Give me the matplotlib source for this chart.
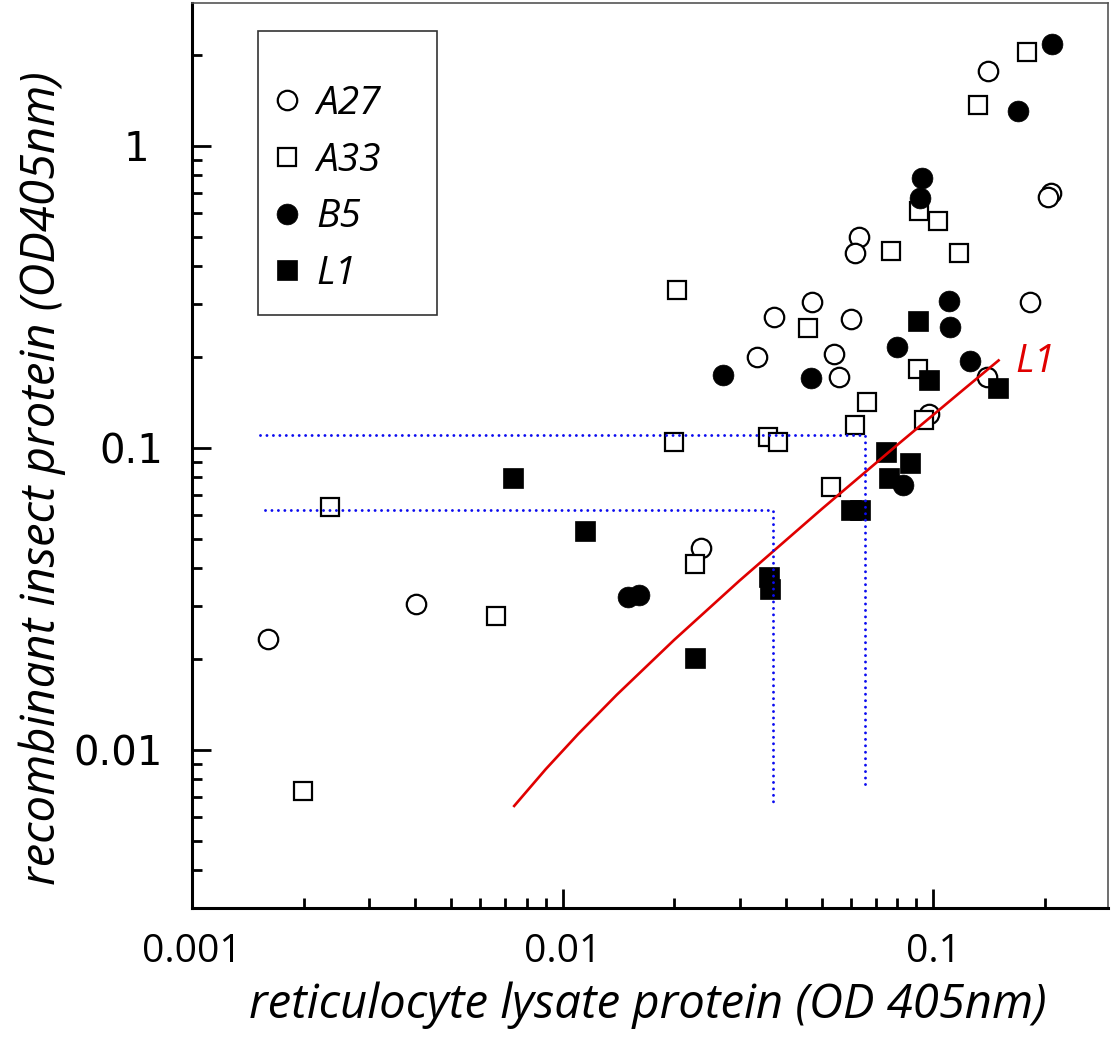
import matplotlib
matplotlib.use("Agg")
import matplotlib.pyplot as plt
from matplotlib.ticker import FixedLocator, NullFormatter, LogLocator
from matplotlib.lines import Line2D
from matplotlib.patches import Rectangle
from matplotlib.transforms import ScaledTranslation

# ---------------- data ----------------
a27_x = [0.0016, 0.00402, 0.0236, 0.0335, 0.0371, 0.0472, 0.0601, 0.0538, 0.0558,
         0.0632, 0.0616, 0.1406, 0.208, 0.204, 0.1826, 0.1398, 0.0975]
a27_y = [0.0233, 0.0304, 0.0465, 0.2007, 0.272, 0.303, 0.268, 0.204, 0.172,
         0.500, 0.443, 1.77, 0.699, 0.678, 0.303, 0.172, 0.130]

a33_x = [0.00199, 0.00236, 0.0066, 0.0203, 0.01995, 0.0228, 0.0359, 0.0380, 0.0460,
         0.0531, 0.0614, 0.0663, 0.0770, 0.117, 0.0917, 0.1032, 0.1316, 0.1789,
         0.0911, 0.0941]
a33_y = [0.00732, 0.0636, 0.0277, 0.332, 0.105, 0.0412, 0.109, 0.105, 0.250,
         0.0742, 0.119, 0.1417, 0.450, 0.442, 0.607, 0.565, 1.36, 2.05,
         0.182, 0.124]

b5_x = [0.01497, 0.01603, 0.0271, 0.0469, 0.0798, 0.110, 0.111, 0.1258, 0.0827,
        0.0932, 0.0918, 0.1692, 0.2089]
b5_y = [0.0320, 0.0325, 0.1741, 0.1706, 0.2155, 0.3074, 0.2508, 0.1936, 0.0752,
        0.782, 0.672, 1.30, 2.17]

l1_x = [0.00736, 0.01146, 0.0228, 0.0360, 0.0363, 0.0598, 0.0633, 0.0746, 0.0758,
        0.0867, 0.0909, 0.0973, 0.1491]
l1_y = [0.0797, 0.0530, 0.0201, 0.0375, 0.0341, 0.0621, 0.0621, 0.0969, 0.0797,
        0.0893, 0.264, 0.168, 0.158]

# red L1 regression curve
fit_x = [0.0074, 0.009, 0.011, 0.014, 0.02, 0.03, 0.05, 0.08, 0.12, 0.15]
fit_y = [0.00653, 0.00864, 0.01128, 0.01524, 0.02316, 0.03636, 0.06276, 0.1024, 0.1552, 0.1948]

# blue dotted guide lines (two read-outs)
guide1_x = [0.00153, 0.0656, 0.0656]
guide1_y = [0.110, 0.110, 0.00743]
guide2_x = [0.00157, 0.0369, 0.0369]
guide2_y = [0.0623, 0.0623, 0.0066]

x_ticks = [0.001, 0.01, 0.1]
x_ticklabels = ["0.001", "0.01", "0.1"]
y_ticks = [0.01, 0.1, 1]
y_ticklabels = ["0.01", "0.1", "1"]

series_names = ["A27", "A33", "B5", "L1"]

# ---------------- figure ----------------
W, H = 1111, 1053
fig = plt.figure(figsize=(W / 100, H / 100), dpi=100)
fig.patch.set_facecolor("white")
ax = fig.add_axes([192 / W, 1 - 908 / H, (1108 - 192) / W, (908 - 3) / H])
ax.set_xscale("log")
ax.set_yscale("log")
ax.set_xlim(0.001, 0.296)
ax.set_ylim(0.003, 2.97)

ms = 14
mew = 1.6
ax.plot(a27_x, a27_y, linestyle="none", marker="o", ms=ms, mfc="white", mec="black", mew=mew, zorder=3)
ax.plot(a33_x, a33_y, linestyle="none", marker="s", ms=ms - 0.5, mfc="white", mec="black", mew=mew, zorder=3)
ax.plot(b5_x, b5_y, linestyle="none", marker="o", ms=ms + 1, mfc="black", mec="black", mew=0.5, zorder=4)
ax.plot(l1_x, l1_y, linestyle="none", marker="s", ms=ms + 0.5, mfc="black", mec="black", mew=0.5, zorder=4)

ax.plot(fit_x, fit_y, color="#e00000", lw=1.9, zorder=5)
dot_style = dict(color="#0c0cf0", lw=2.1, linestyle=(0, (0.01, 2.2)),
                 dash_capstyle="round", zorder=5)
ax.plot(guide1_x, guide1_y, **dot_style)
ax.plot(guide2_x, guide2_y, **dot_style)

ax.text(0.166, 0.193, "L1", color="#e00000", fontsize=28, fontstyle="italic",
        family="Open Sans", ha="left", va="center", zorder=6)

# spines
for s in ["top", "right"]:
    ax.spines[s].set_color("#555555")
    ax.spines[s].set_linewidth(1.2)
for s in ["left", "bottom"]:
    ax.spines[s].set_color("black")
    ax.spines[s].set_linewidth(2.2)

# ticks
ax.xaxis.set_major_locator(FixedLocator(x_ticks))
ax.yaxis.set_major_locator(FixedLocator(y_ticks))
ax.xaxis.set_minor_locator(LogLocator(base=10, subs=range(2, 10)))
ax.yaxis.set_minor_locator(LogLocator(base=10, subs=range(2, 10)))
ax.xaxis.set_minor_formatter(NullFormatter())
ax.yaxis.set_minor_formatter(NullFormatter())
ax.set_xticklabels(x_ticklabels, family="Open Sans", fontsize=28)
ax.set_yticklabels(y_ticklabels, family="DejaVu Sans", fontsize=29)
ax.tick_params(which="both", direction="in", top=False, right=False, width=2.0, color="black")
ax.tick_params(which="major", length=14)
ax.tick_params(which="minor", length=7)
ax.tick_params(axis="x", which="major", pad=18)
ax.tick_params(axis="y", which="major", pad=21)
# the lone "1" label sits further left in the original
for lab in ax.get_yticklabels():
    if lab.get_text() == "1":
        lab.set_transform(lab.get_transform() + ScaledTranslation(-0.14, 0, fig.dpi_scale_trans))

# axis labels
fig.text(648 / W, 1 - 1005 / H, "reticulocyte lysate protein (OD 405nm)", fontsize=34,
         fontstyle="italic", family="Open Sans", ha="center", va="center")
fig.text(42 / W, 1 - 478 / H, "recombinant insect protein (OD405nm)", fontsize=34,
         fontstyle="italic", family="Open Sans", ha="center", va="center", rotation=90)

# legend (markers + text), with a separate rectangular frame
handles = [
    Line2D([], [], linestyle="none", marker="o", ms=ms, mfc="white", mec="black", mew=mew),
    Line2D([], [], linestyle="none", marker="s", ms=ms - 0.5, mfc="white", mec="black", mew=mew),
    Line2D([], [], linestyle="none", marker="o", ms=ms + 1, mfc="black", mec="black", mew=0.5),
    Line2D([], [], linestyle="none", marker="s", ms=ms + 0.5, mfc="black", mec="black", mew=0.5),
]
leg = fig.legend(handles, series_names, loc="upper left",
                 bbox_to_anchor=(271 / W, 1 - 85 / H), frameon=False,
                 prop={"family": "Open Sans", "style": "italic", "size": 28},
                 handlelength=0.8, handletextpad=0.37, labelspacing=0.48,
                 borderpad=0, borderaxespad=0)
fig.add_artist(Rectangle((258 / W, 1 - 315 / H), (437 - 258) / W, (315 - 31) / H,
                         transform=fig.transFigure, fill=False, edgecolor="#333333", lw=1.2))

fig.savefig("out.png", dpi=100, facecolor="white")
